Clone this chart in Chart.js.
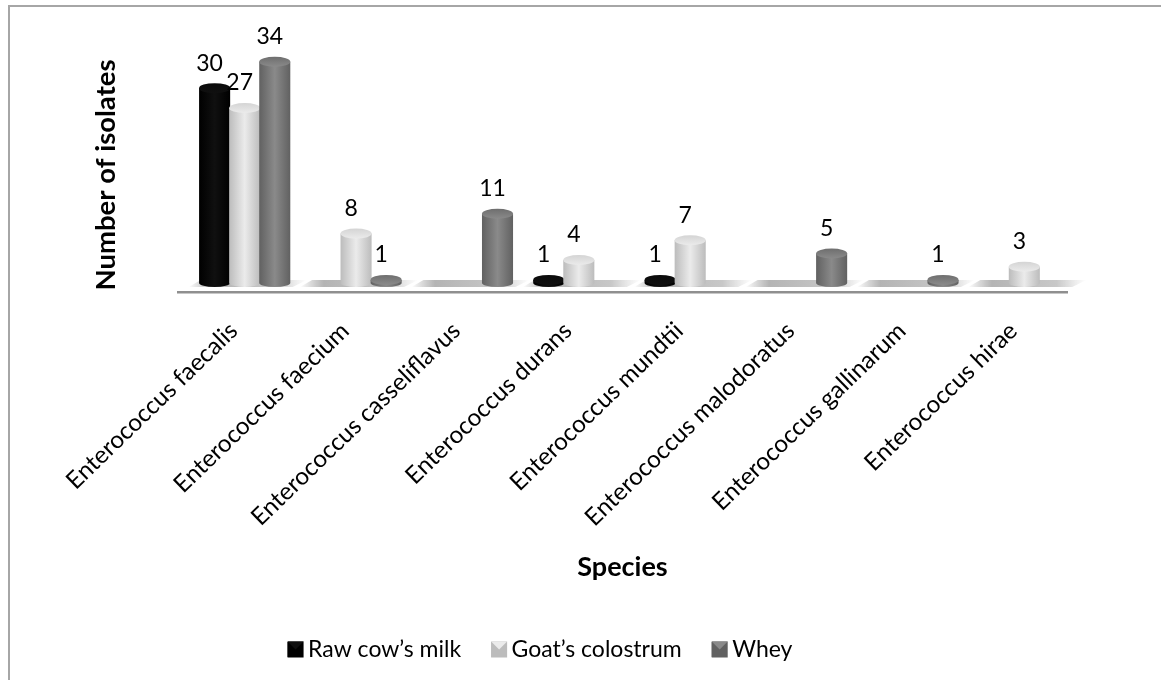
<!DOCTYPE html>
<html>
<head>
<meta charset="utf-8">
<style>
html, body { margin: 0; padding: 0; background: #fff; overflow: hidden; }
canvas { position: absolute; left: 0; top: 0; }
#quadro { position: absolute; left: 8px; top: 5px; width: 1153px; height: 675px; box-sizing: border-box; border-left: 2px solid #a6a6a6; border-top: 2px solid #a6a6a6; }
</style>
<script src="https://cdn.jsdelivr.net/npm/chart.js@4"></script>
</head>
<body>
<canvas id="grafico" width="1161" height="680"></canvas>
<div id="quadro"></div>
<script>
const species = [
    "Enterococcus faecalis",
    "Enterococcus faecium",
    "Enterococcus casseliflavus",
    "Enterococcus durans",
    "Enterococcus mundtii",
    "Enterococcus malodoratus",
    "Enterococcus gallinarum",
    "Enterococcus hirae"
];

const rawMilk = [30, null, null, 1, 1, null, null, null];
const goatColostrum = [27, 8, null, 4, 7, null, null, 3];
const whey = [34, 1, 11, null, null, 5, 1, null];

const fonte = "Lato, sans-serif";
const desvioLegenda = -45;

// dark edge, light centre, top cap
const tons = [
    { borda: "#000000", meio: "#101010", topo: "#0a0a0a" },
    { borda: "#bcbcbc", meio: "#ebebeb", topo: "#d4d4d4" },
    { borda: "#616161", meio: "#8a8a8a", topo: "#6e6e6e" }
];

function gradiente(ctx, x0, x1, t){
    const g = ctx.createLinearGradient(x0, 0, x1, 0);
    g.addColorStop(0, t.borda);
    g.addColorStop(0.5, t.meio);
    g.addColorStop(1, t.borda);
    return g;
}

// floor shadows, the long axis line, then the cylinders drawn from the bar elements
const cilindros = {
    id: "cilindros",
    afterLayout(chart){
        const l = chart.legend;
        l.left += desvioLegenda;
        l.right += desvioLegenda;
        l.legendHitBoxes.forEach(h => { h.left += desvioLegenda; });
    },
    beforeDatasetsDraw(chart){
        const ctx = chart.ctx;
        const x = chart.scales.x;
        const base = chart.scales.y.getPixelForValue(0) - 2.5;
        ctx.save();
        species.forEach((s, i) => {
            const c = x.getPixelForValue(i);
            const g = ctx.createLinearGradient(c - 56, 0, c + 62, 0);
            g.addColorStop(0, "rgba(170,170,170,0)");
            g.addColorStop(0.2, "#b4b4b4");
            g.addColorStop(0.75, "#c8c8c8");
            g.addColorStop(1, "rgba(210,210,210,0)");
            ctx.fillStyle = g;
            ctx.beginPath();
            ctx.moveTo(c - 56, base + 3);
            ctx.lineTo(c - 44, base - 4);
            ctx.lineTo(c + 62, base - 4);
            ctx.lineTo(c + 48, base + 3);
            ctx.closePath();
            ctx.fill();
        });
        ctx.fillStyle = "#8f8f8f";
        ctx.fillRect(x.left - 12, base + 7, x.width, 2.5);
        ctx.restore();
    },
    // the square native bars would poke out under the rounded bottoms
    beforeDatasetDraw(){
        return false;
    },
    afterDatasetsDraw(chart){
        const ctx = chart.ctx;
        ctx.save();
        chart.data.datasets.forEach((d, k) => {
            const t = tons[k];
            chart.getDatasetMeta(k).data.forEach((bar, i) => {
                if(d.data[i] === null) return;
                const p = bar.getProps(["x", "y", "base", "width"], true);
                const r = p.width / 2 + 0.5;
                const ry = 5;
                const fundo = p.base - 3.5;
                ctx.fillStyle = gradiente(ctx, p.x - r, p.x + r, t);
                ctx.beginPath();
                ctx.moveTo(p.x - r, p.y);
                ctx.lineTo(p.x - r, fundo);
                ctx.ellipse(p.x, fundo, r, ry - 1, 0, Math.PI, 0, true);
                ctx.lineTo(p.x + r, p.y);
                ctx.closePath();
                ctx.fill();
                const g = ctx.createLinearGradient(0, p.y - ry, 0, p.y + ry);
                g.addColorStop(0, t.topo);
                g.addColorStop(1, t.meio);
                ctx.fillStyle = g;
                ctx.beginPath();
                ctx.ellipse(p.x, p.y, r, ry, 0, 0, Math.PI * 2);
                ctx.fill();
            });
        });
        ctx.restore();
    },
    afterDraw(chart){
        // values, bevelled legend keys, and the two axis titles, which sit off the plot centre
        const ctx = chart.ctx;
        const eixo = chart.scales.x;
        ctx.save();
        ctx.font = "23px " + fonte;
        ctx.fillStyle = "#000";
        ctx.textAlign = "center";
        ctx.textBaseline = "middle";
        chart.data.datasets.forEach((d, k) => {
            chart.getDatasetMeta(k).data.forEach((bar, i) => {
                if(d.data[i] === null) return;
                ctx.fillText(d.data[i], bar.x - 5, bar.y - 25);
            });
        });
        ctx.font = "bold 27px " + fonte;
        ctx.fillText("Species", eixo.left - 12 + eixo.width / 2, 567);
        ctx.save();
        ctx.translate(106, 175);
        ctx.rotate(-Math.PI / 2);
        ctx.font = "bold 27.5px " + fonte;
        ctx.fillText("Number of isolates", 0, 0);
        ctx.restore();
        chart.legend.legendHitBoxes.forEach((h, k) => {
            const t = tons[k];
            const s = 16, x = h.left, y = h.top + (h.height - s) / 2;
            ctx.fillStyle = t.borda;
            ctx.fillRect(x, y, s, s);
            ctx.fillStyle = t.meio;
            ctx.beginPath();
            ctx.moveTo(x, y);
            ctx.lineTo(x + s, y);
            ctx.lineTo(x + s / 2, y + s / 2);
            ctx.closePath();
            ctx.fill();
        });
        ctx.restore();
    }
};

new Chart(document.getElementById("grafico"), {
    type: "bar",
    data: {
        labels: species,
        datasets: [
            { label: "Raw cow\u2019s milk", data: rawMilk, backgroundColor: "#0a0a0a" },
            { label: "Goat\u2019s colostrum", data: goatColostrum, backgroundColor: "#d4d4d4" },
            { label: "Whey", data: whey, backgroundColor: "#6e6e6e" }
        ]
    },
    plugins: [cilindros],
    options: {
        responsive: false,
        animation: false,
        layout: { padding: { left: 90, right: 81, top: 22, bottom: 9 } },
        datasets: { bar: { categoryPercentage: 0.81, barPercentage: 1 } },
        plugins: {
            legend: {
                position: "bottom",
                labels: {
                    font: { family: fonte, size: 23 },
                    color: "#000",
                    boxWidth: 9,
                    boxHeight: 15,
                    padding: 30
                }
            },
            tooltip: { enabled: false }
        },
        scales: {
            x: {
                afterFit(scale){ scale.height = 321.5; },
                grid: { display: false },
                border: { display: false },
                ticks: {
                    font: { family: fonte, size: 24.2 },
                    color: "#000",
                    autoSkip: false,
                    maxRotation: 44,
                    minRotation: 44,
                    padding: 22,
                    labelOffset: -11
                }
            },
            y: {
                afterFit(scale){ scale.width = 99; },
                min: 0,
                max: 40,
                grid: { display: false },
                border: { display: false },
                ticks: { display: false }
            }
        }
    }
});
</script>
</body>
</html>
